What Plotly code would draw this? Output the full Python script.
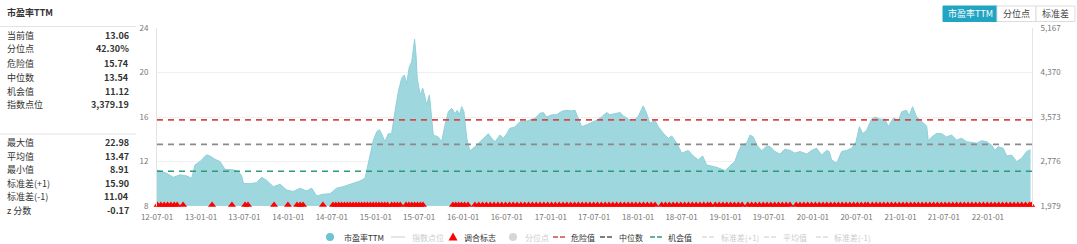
import plotly.graph_objects as go
import pandas as pd

# ---------------- data ----------------
START = "2012-07-01"
X_END_DAY = 3655  # axis end, days after START

pe_days = [0, 40, 68, 96, 124, 145, 159, 180, 207, 221, 242, 263, 284, 319, 340, 354, 361, 388, 416, 437,
           458, 486, 514, 542, 569, 597, 625, 646, 667, 695, 723, 750, 778, 806, 848, 869, 883,
           890, 904, 918, 929, 938, 952, 966, 980, 994, 1008, 1022, 1033, 1043, 1054, 1064, 1071, 1076,
           1082, 1087, 1099, 1110, 1119, 1126, 1138, 1145, 1154, 1175, 1189, 1203, 1217, 1231, 1245, 1254,
           1263, 1273, 1282, 1294, 1307, 1328, 1349, 1370, 1384, 1398, 1412, 1433, 1447, 1461, 1474, 1495,
           1516, 1537, 1558, 1579, 1600, 1614, 1628, 1649, 1669, 1690, 1711, 1732, 1746, 1760, 1774, 1795,
           1816, 1836, 1857, 1878, 1892, 1913, 1934,
           1948, 1969, 1990, 2011, 2031, 2045, 2059, 2080, 2094, 2115, 2136, 2150, 2171, 2192, 2219, 2240,
           2261, 2279, 2296, 2317, 2338, 2359, 2373, 2393, 2414, 2428, 2442, 2463, 2477, 2491, 2505, 2526,
           2547, 2561, 2581, 2602, 2623, 2644, 2665, 2686, 2714, 2735, 2755, 2776, 2797,
           2808, 2818, 2839, 2860, 2881, 2902, 2920, 2934, 2948, 2964, 2985, 2999, 3020, 3041, 3055, 3076,
           3097, 3111, 3131, 3142, 3156, 3173, 3194, 3215, 3222, 3236, 3257, 3278, 3298, 3319, 3340, 3361,
           3382, 3403, 3424, 3445, 3466, 3486, 3500, 3514, 3535, 3549, 3570, 3591, 3612, 3633, 3649]

pe_values = [11.24, 10.94, 10.58, 10.8, 10.7, 10.5, 11.7, 12.0, 12.6, 12.5, 12.2, 12.0, 11.3, 11.25, 11.1,
             10.7, 10.04, 10.0, 10.1, 10.58, 10.3, 9.74, 9.95, 9.44, 9.3, 9.6, 9.35, 9.6, 8.91, 9.06, 9.1,
             9.6, 9.74, 9.95, 10.25, 10.5, 11.84,
             12.29, 13.93, 14.68, 14.86, 14.5, 13.78, 14.5, 14.5, 16.48, 18.28, 19.48, 19.78, 19.03, 20.52,
             20.97, 22.47, 22.98, 21.58, 19.48, 17.98, 18.58, 17.83, 17.08, 17.98, 16.18, 14.38, 14.2, 13.78,
             15.28, 16.48, 16.78, 16.3, 16.6, 16.2, 16.93, 16.48, 14.08, 12.94, 13.33, 13.78, 14.23, 14.5,
             14.08, 13.78, 14.38, 14.1, 14.5, 14.98, 15.1, 15.58, 15.58, 15.7, 15.88, 16.33, 16.4, 16.0, 16.2,
             16.2, 16.5, 16.6, 16.55, 16.6, 15.9, 15.13, 15.3, 15.5, 15.7, 16.0, 16.4, 16.2, 16.3, 16.4,
             16.1, 15.8, 15.6, 16.1, 16.99, 16.33, 15.43, 15.7, 15.13, 14.53, 14.08, 14.3, 13.64, 12.74, 13.0,
             12.5, 12.14, 12.5, 11.69, 11.6, 11.48, 11.3, 11.17, 11.6, 11.99, 12.88, 13.48, 13.64, 14.38, 14.2,
             13.48, 12.97, 13.4, 13.33, 12.9, 12.67, 13.1, 13.0, 12.75, 12.9, 12.67, 13.0, 13.2, 12.58, 13.0,
             12.9, 12.14, 11.84, 12.9, 13.0, 13.2, 13.78, 15.13, 14.5, 14.8, 15.8, 16.0, 15.8, 15.8, 15.13,
             15.9, 15.7, 16.48, 16.6, 16.1, 16.93, 16.0, 15.6, 15.19, 13.87, 14.2, 14.53, 14.5, 14.2, 14.38,
             13.93, 14.08, 13.78, 13.7, 13.64, 13.87, 13.78, 13.48, 13.0, 13.33, 13.18, 12.5, 12.58, 11.99,
             12.3, 12.9, 13.06]

flag_days = [2, 16, 30, 44, 58, 72, 84, 109, 230, 313, 368, 380, 489, 547, 585, 598, 610, 693,
             735, 747, 759, 771, 783, 795, 807, 819, 831, 843, 855, 867, 879, 891, 903, 915, 927, 939, 951,
             963, 980, 992, 1004, 1016, 1040, 1052, 1064, 1076, 1088, 1100, 1111,
             1236, 1248, 1260, 1272, 1285, 1299,
             1328, 1344, 1360, 1376, 1392, 1408, 1424, 1440, 1456, 1472, 1488, 1504, 1520, 1536, 1552, 1568,
             1584, 1600, 1616, 1632, 1648, 1664, 1680, 1696, 1712, 1728, 1744, 1760, 1776, 1792, 1808, 1824,
             1840, 1856, 1872, 1888, 1904, 1920, 1936, 1952, 1968, 1984, 2000, 2016, 2032, 2048, 2064, 2080,
             2108, 2124, 2140, 2156, 2172, 2188, 2204, 2220, 2236, 2252, 2268, 2284, 2300, 2312,
             2332, 2348, 2364, 2380, 2396, 2412, 2428, 2444,
             2468, 2484, 2500, 2516, 2532, 2548, 2564, 2580, 2596, 2612, 2628, 2644,
             2670, 2686, 2702, 2718, 2734, 2750, 2766, 2782, 2798, 2814, 2830, 2846, 2862, 2878, 2894, 2910,
             2926, 2942, 2958, 2970,
             2988, 3004, 3020, 3036, 3052, 3068, 3084, 3100, 3116, 3132, 3148, 3164, 3180, 3196, 3212, 3228,
             3244, 3260, 3276, 3292, 3308, 3324, 3340, 3356, 3372, 3388, 3404, 3420, 3436, 3452, 3468, 3484,
             3500, 3516, 3532, 3548, 3564, 3580, 3596, 3612, 3628, 3644, 3652]
FLAG_LEVEL = 8.1

danger_value = 15.74
median_value = 13.54
chance_value = 11.12

stats_top_labels = ["当前值", "分位点", "危险值", "中位数", "机会值", "指数点位"]
stats_top_values = ["13.06", "42.30%", "15.74", "13.54", "11.12", "3,379.19"]
stats_bottom_labels = ["最大值", "平均值", "最小值", "标准差(+1)", "标准差(-1)", "z 分数"]
stats_bottom_values = ["22.98", "13.47", "8.91", "15.90", "11.04", "-0.17"]

y_ticks = [8, 12, 16, 20, 24]
y2_ticks = [1979, 2776, 3573, 4370, 5167]
x_tick_dates = ["2012-07-01", "2013-01-01", "2013-07-01", "2014-01-01", "2014-07-01", "2015-01-01",
                "2015-07-01", "2016-01-01", "2016-07-01", "2017-01-01", "2017-07-01", "2018-01-01",
                "2018-07-01", "2019-01-01", "2019-07-01", "2020-01-01", "2020-07-01", "2021-01-01",
                "2021-07-01", "2022-01-01"]

buttons = ["市盈率TTM", "分位点", "标准差"]
legend_names = ["市盈率TTM", "指数点位", "调合标志", "分位点", "危险值", "中位数", "机会值",
                "标准差(+1)", "平均值", "标准差(-1)"]

# ---------------- build ----------------
start = pd.Timestamp(START)
pe_dates = start + pd.to_timedelta(pe_days, unit="D")
flag_dates = start + pd.to_timedelta(flag_days, unit="D")
x_end = start + pd.Timedelta(days=X_END_DAY)

W, H = 1077, 244
L, R, T, B = 157, 1032, 28, 206
FONT = "Noto Sans CJK SC, Noto Sans, sans-serif"


def fx(px):
    return (px - L) / (R - L)


def fy(py):
    return (B - py) / (B - T)


AREA = "#9fd7df"
RED = "#d24b4b"
GREY = "#8a8a8a"
GREEN = "#2f9a78"
FAINT = "#cccccc"

fig = go.Figure()
fig.add_trace(go.Scatter(x=pe_dates, y=pe_values, mode="lines", fill="tozeroy",
                         line=dict(color="#90d0da", width=1), fillcolor=AREA,
                         name="市盈率TTM", showlegend=False, hoverinfo="skip"))
fig.add_trace(go.Scatter(x=flag_dates, y=[FLAG_LEVEL] * len(flag_dates), mode="markers",
                         marker=dict(symbol="triangle-up", size=7, color="#ff0000", line=dict(width=0)),
                         cliponaxis=False, name="调合标志", showlegend=False, hoverinfo="skip"))
fig.add_trace(go.Scatter(x=[], y=[], yaxis="y2", mode="lines", name="指数点位", showlegend=False))

for val, col in [(danger_value, RED), (median_value, GREY), (chance_value, GREEN)]:
    fig.add_shape(type="line", xref="paper", x0=0, x1=1, yref="y", y0=val, y1=val,
                  line=dict(color=col, width=1.6, dash="6px,5px"), layer="above")

shapes = []
annotations = []

# left stats panel
annotations.append(dict(x=fx(5), y=fy(13), xref="paper", yref="paper", text="<b>市盈率TTM</b>",
                        showarrow=False, xanchor="left", yanchor="middle",
                        font=dict(size=9, color="#333", family=FONT)))
shapes.append(dict(type="line", xref="paper", yref="paper", x0=fx(0), x1=fx(136), y0=fy(26.5), y1=fy(26.5),
                   line=dict(color="#e3e3e3", width=1)))
shapes.append(dict(type="line", xref="paper", yref="paper", x0=fx(0), x1=fx(136), y0=fy(134), y1=fy(134),
                   line=dict(color="#e3e3e3", width=1)))
for i, (lab, val) in enumerate(zip(stats_top_labels, stats_top_values)):
    yy = 35 + i * 14
    annotations.append(dict(x=fx(5), y=fy(yy), xref="paper", yref="paper", text=lab, showarrow=False,
                            xanchor="left", yanchor="middle", font=dict(size=9, color="#333", family=FONT)))
    annotations.append(dict(x=fx(131), y=fy(yy), xref="paper", yref="paper", text="<b>%s</b>" % val,
                            showarrow=False, xanchor="right", yanchor="middle",
                            font=dict(size=9, color="#333", family=FONT)))
for i, (lab, val) in enumerate(zip(stats_bottom_labels, stats_bottom_values)):
    yy = 142.5 + i * 13.6
    annotations.append(dict(x=fx(5), y=fy(yy), xref="paper", yref="paper", text=lab, showarrow=False,
                            xanchor="left", yanchor="middle", font=dict(size=9, color="#333", family=FONT)))
    annotations.append(dict(x=fx(131), y=fy(yy), xref="paper", yref="paper", text="<b>%s</b>" % val,
                            showarrow=False, xanchor="right", yanchor="middle",
                            font=dict(size=9, color="#333", family=FONT)))

# top-right buttons
btn_edges = [943, 997, 1036, 1075]
for i, name in enumerate(buttons):
    x0, x1 = btn_edges[i], btn_edges[i + 1]
    sel = i == 0
    shapes.append(dict(type="rect", xref="paper", yref="paper", x0=fx(x0), x1=fx(x1), y0=fy(21.5), y1=fy(6),
                       fillcolor="#22a5c3" if sel else "white",
                       line=dict(color="#22a5c3" if sel else "#dddddd", width=1)))
    annotations.append(dict(x=fx((x0 + x1) / 2), y=fy(13.8), xref="paper", yref="paper", text=name,
                            showarrow=False, xanchor="center", yanchor="middle",
                            font=dict(size=9, color="white" if sel else "#444", family=FONT)))

# custom legend
leg_y = 237
sym_x = [330, 398, 453, 513, 559, 606, 656, 708, 770, 822]
txt_x = [342, 410, 462, 523, 569, 617, 666, 719, 781, 832]
active = [True, False, True, False, True, True, True, False, False, False]
for i, name in enumerate(legend_names):
    sx = sym_x[i]
    if i == 0 or i == 3:
        col = "#6cc4d1" if i == 0 else "#d6d6d6"
        shapes.append(dict(type="circle", xref="paper", yref="paper", x0=fx(sx - 4), x1=fx(sx + 4),
                           y0=fy(leg_y + 4), y1=fy(leg_y - 4), fillcolor=col, line=dict(width=0)))
    elif i == 2:
        path = "M %f,%f L %f,%f L %f,%f Z" % (fx(sx - 4.5), fy(leg_y + 3.5), fx(sx + 4.5), fy(leg_y + 3.5),
                                              fx(sx), fy(leg_y - 4.5))
        shapes.append(dict(type="path", xref="paper", yref="paper", path=path, fillcolor="#ff0000",
                           line=dict(width=0)))
    elif i == 1:
        shapes.append(dict(type="line", xref="paper", yref="paper", x0=fx(sx - 7), x1=fx(sx + 7),
                           y0=fy(leg_y), y1=fy(leg_y), line=dict(color="#dddddd", width=1.5)))
    else:
        col = {4: RED, 5: "#555555", 6: GREEN}.get(i, "#dddddd")
        shapes.append(dict(type="line", xref="paper", yref="paper", x0=fx(sx - 6), x1=fx(sx + 6),
                           y0=fy(leg_y), y1=fy(leg_y), line=dict(color=col, width=1.6, dash="5px,2px")))
    annotations.append(dict(x=fx(txt_x[i]), y=fy(leg_y), xref="paper", yref="paper", text=name,
                            showarrow=False, xanchor="left", yanchor="middle",
                            font=dict(size=8, color="#333" if active[i] else FAINT, family=FONT)))

fig.update_layout(
    width=W, height=H,
    margin=dict(l=L, r=W - R, t=T, b=H - B, pad=0),
    paper_bgcolor="white", plot_bgcolor="white",
    font=dict(family=FONT, size=8, color="#777"),
    showlegend=False,
    shapes=list(fig.layout.shapes) + shapes,
    annotations=annotations,
    xaxis=dict(type="date", range=[start, x_end], tickvals=x_tick_dates, tickformat="%y-%m-%d",
               showgrid=False, zeroline=False, showline=False, ticks="outside", ticklen=3,
               tickcolor="rgba(0,0,0,0)", tickfont=dict(size=8, color="#777")),
    yaxis=dict(range=[8, 24], tickvals=y_ticks, showgrid=True, gridcolor="#f0f0f0", zeroline=False,
               showline=True, linecolor="#e4e4e4", linewidth=1, ticks="outside", ticklen=6,
               tickcolor="rgba(0,0,0,0)", tickfont=dict(size=8, color="#777")),
    yaxis2=dict(overlaying="y", side="right", range=[1979, 5167], tickvals=y2_ticks,
                tickformat=",d", showgrid=False, zeroline=False, showline=True, linecolor="#e4e4e4",
                linewidth=1, ticks="outside", ticklen=6, tickcolor="rgba(0,0,0,0)",
                tickfont=dict(size=8, color="#777")),
)

fig.write_html("out.html")
